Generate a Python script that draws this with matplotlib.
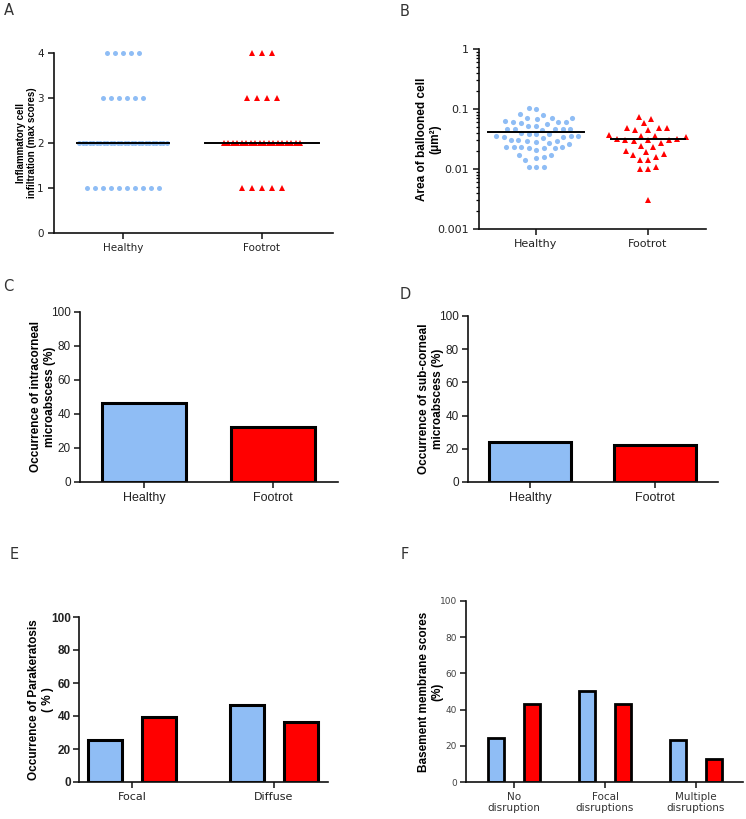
import numpy as np
import matplotlib
matplotlib.use("Agg")
import matplotlib.pyplot as plt
from matplotlib.ticker import LogLocator, NullFormatter, FixedLocator

W, H = 746, 819
BLUE = "#8fbdf5"
RED = "#ff0000"
TXT = "#222222"

groups = ["Healthy", "Footrot"]

# panel A: inflammatory cell infiltration (score -> number of animals)
a_scores = [1, 2, 3, 4]
a_healthy_counts = [10, 26, 6, 5]
a_footrot_counts = [5, 18, 4, 3]
a_median = [2, 2]

# panel B: area of ballooned cell
b_healthy = [0.105, 0.101, 0.082, 0.080, 0.071, 0.070, 0.069, 0.070,
             0.062, 0.061, 0.060, 0.061, 0.058, 0.057, 0.053, 0.052,
             0.047, 0.046, 0.046, 0.045, 0.046, 0.047, 0.039, 0.040,
             0.038, 0.039, 0.035, 0.034, 0.035, 0.034, 0.033, 0.035,
             0.030, 0.029, 0.030, 0.029, 0.028, 0.027, 0.026, 0.023,
             0.023, 0.022, 0.023, 0.022, 0.021, 0.023, 0.022, 0.017,
             0.017, 0.016, 0.015, 0.014, 0.011, 0.011, 0.011]
b_footrot = [0.074, 0.069, 0.058, 0.049, 0.049, 0.048, 0.045, 0.044,
             0.037, 0.036, 0.036, 0.034, 0.032, 0.032, 0.031, 0.030,
             0.030, 0.029, 0.027, 0.024, 0.023, 0.020, 0.019, 0.018,
             0.017, 0.016, 0.014, 0.014, 0.011, 0.010, 0.010, 0.003]
b_median = [0.041, 0.032]

# panel C / D
c_values = [46.5, 32.4]
d_values = [24.1, 22.3]

# panel E
e_cats = ["Focal", "Diffuse"]
e_healthy = [25.3, 46.5]
e_footrot = [39.2, 36.4]

# panel F
f_cats = ["No\ndisruption", "Focal\ndisruptions", "Multiple\ndisruptions"]
f_healthy = [24.2, 50.3, 23.3]
f_footrot = [42.9, 42.9, 12.7]


def rect(l, t, r, b):
    return [l / W, 1 - b / H, (r - l) / W, (b - t) / H]


def style(ax):
    for s in ("top", "right"):
        ax.spines[s].set_visible(False)
    for s in ("left", "bottom"):
        ax.spines[s].set_linewidth(1.2)
        ax.spines[s].set_color("#111111")
    ax.tick_params(direction="out", length=4, width=1.1, colors="#111111")


def swarm(vals, diam, px_per_decade):
    # simple beeswarm in pixel space, returns x offsets in px
    ys = np.log10(vals) * px_per_decade
    order = np.argsort(ys)
    placed = []
    offs = np.zeros(len(vals))
    cands = sorted(np.arange(-60, 60.5, 0.5), key=abs)
    for i in order:
        for c in cands:
            if all((c - px) ** 2 + (ys[i] - py) ** 2 >= diam ** 2 for px, py in placed):
                offs[i] = c
                placed.append((c, ys[i]))
                break
    return offs


fig = plt.figure(figsize=(W / 100, H / 100), dpi=100)

# ---------------- A ----------------
ax = fig.add_axes(rect(54, 53, 333, 233))
style(ax)
px_unit = 139.0
for gi, (counts, spacing, maxw, mk, col, ms) in enumerate([
        (a_healthy_counts, 8.0, 88.0, "o", BLUE, 3.6),
        (a_footrot_counts, 10.0, 76.0, "^", RED, 4.8)]):
    for sc, n in zip(a_scores, counts):
        sp = spacing if n < 2 else min(spacing, maxw / (n - 1))
        xs = gi + (np.arange(n) - (n - 1) / 2) * sp / px_unit
        ax.plot(xs, [sc] * n, mk, color=col, ms=ms, mew=0, zorder=2, clip_on=False)
half = [46 / px_unit, 57 / px_unit]
for gi, m in enumerate(a_median):
    ax.plot([gi - half[gi], gi + half[gi]], [m, m], color="black", lw=1.4, zorder=3)
ax.set_xlim(-69 / px_unit, 1 + 71 / px_unit)
ax.set_ylim(0, 4)
ax.set_yticks([0, 1, 2, 3, 4])
ax.set_xticks([0, 1])
ax.set_xticklabels(groups)
ax.tick_params(labelsize=7.5, labelcolor=TXT)
ax.set_ylabel("Inflammatory cell\ninfiltration (max scores)", fontsize=7,
              fontweight="bold", family="Liberation Sans", linespacing=1.2)
ax.yaxis.set_label_coords(-0.06, 0.5)

# ---------------- B ----------------
ax = fig.add_axes(rect(479, 49, 706, 229))
style(ax)
ax.set_yscale("log")
px_unit = 112.0
for gi, (vals, mk, col, ms, d) in enumerate([
        (b_healthy, "o", BLUE, 3.7, 7.4), (b_footrot, "^", RED, 5.0, 8.2)]):
    xs = gi + swarm(np.array(vals), d, 60.0) / px_unit
    ax.plot(xs, vals, mk, color=col, ms=ms, mew=0, zorder=2)
bhalf = [48 / px_unit, 37 / px_unit]
for gi, m in enumerate(b_median):
    ax.plot([gi - bhalf[gi], gi + bhalf[gi]], [m, m], color="black", lw=1.4, zorder=3)
ax.set_xlim(-57 / px_unit, 1 + 58 / px_unit)
ax.set_ylim(0.001, 1)
ax.yaxis.set_major_locator(FixedLocator([0.001, 0.01, 0.1, 1]))
ax.set_yticklabels(["0.001", "0.01", "0.1", "1"])
ax.yaxis.set_minor_locator(LogLocator(base=10, subs=np.arange(2, 10)))
ax.yaxis.set_minor_formatter(NullFormatter())
ax.tick_params(axis="y", which="minor", length=2.5, width=0.9)
ax.set_xticks([0, 1])
ax.set_xticklabels(groups)
ax.tick_params(labelsize=8, labelcolor=TXT)
ax.set_ylabel("Area of ballooned cell\n(\u03bcm\u00b2)", fontsize=8.5,
              fontweight="bold", family="Liberation Sans", linespacing=1.2)
ax.yaxis.set_label_coords(-0.165, 0.5)

# ---------------- C / D ----------------
for (l, t, r, b), vals, ylab, lx, bw in [
        ((80, 312, 338, 482), c_values,
         "Occurrence of intracorneal\nmicroabscess (%)", -0.092, 0.65),
        ((468, 316, 718, 482), d_values,
         "Occurrence of sub-corneal\nmicroabscess (%)", -0.098, 0.656)]:
    ax = fig.add_axes(rect(l, t, r, b))
    style(ax)
    ax.bar([0, 1], vals, width=bw, color=[BLUE, RED], edgecolor="black", lw=2.2, zorder=2)
    ax.set_xlim(-0.496, 1.504)
    ax.set_ylim(0, 100)
    ax.set_yticks(range(0, 101, 20))
    ax.set_xticks([0, 1])
    ax.set_xticklabels(groups)
    for lab in ax.get_xticklabels():
        lab.set_family("Liberation Sans")
        lab.set_fontsize(9)
        lab.set_color(TXT)
    for lab in ax.get_yticklabels():
        lab.set_family("Liberation Sans")
        lab.set_fontsize(8.5)
        lab.set_color(TXT)
    ax.tick_params(axis="y", pad=2.5)
    ax.set_ylabel(ylab, fontsize=8.5, fontweight="bold", family="Liberation Sans",
                  linespacing=1.2)
    ax.yaxis.set_label_coords(lx, 0.5)

# ---------------- E ----------------
ax = fig.add_axes(rect(79, 617, 328, 782))
style(ax)
x = np.arange(len(e_cats))
ax.bar(x - 0.19, e_healthy, width=0.235, color=BLUE, edgecolor="black", lw=2.2, zorder=2)
ax.bar(x + 0.19, e_footrot, width=0.235, color=RED, edgecolor="black", lw=2.2, zorder=2)
ax.set_xlim(-0.373, 1.38)
ax.set_ylim(0, 100)
ax.set_yticks(range(0, 101, 20))
ax.set_xticks(x)
ax.set_xticklabels(e_cats, fontsize=8, color=TXT)
for lab in ax.get_yticklabels():
    lab.set_family("Liberation Sans")
    lab.set_fontweight("bold")
    lab.set_fontsize(8.5)
    lab.set_color(TXT)
ax.tick_params(axis="y", pad=2)
ax.set_ylabel("Occurrence of Parakeratosis\n( % )", fontsize=8.5, fontweight="bold",
              family="Liberation Sans", linespacing=1.2)
ax.yaxis.set_label_coords(-0.1, 0.5)

# ---------------- F ----------------
ax = fig.add_axes(rect(466, 601, 743, 782))
style(ax)
x = np.arange(len(f_cats))
ax.bar(x - 0.2, f_healthy, width=0.18, color=BLUE, edgecolor="black", lw=2.0, zorder=2)
ax.bar(x + 0.2, f_footrot, width=0.18, color=RED, edgecolor="black", lw=2.0, zorder=2)
ax.set_xlim(-0.527, 2.516)
ax.set_ylim(0, 100)
ax.set_yticks(range(0, 101, 20))
ax.set_xticks(x)
ax.set_xticklabels(f_cats, fontsize=7.5, color="#333333", linespacing=1.1)
ax.tick_params(axis="y", labelsize=6.5, labelcolor="#444444", pad=2.5)
ax.set_ylabel("Basement membrane scores\n(%)", fontsize=8.5, fontweight="bold",
              family="Liberation Sans", linespacing=1.2)
ax.yaxis.set_label_coords(-0.08, 0.5)

# panel letters
for letter, px, py in [("A", 4, 3), ("B", 400, 4), ("C", 3, 279),
                       ("D", 400, 287), ("E", 10, 547), ("F", 401, 547)]:
    fig.text(px / W, 1 - py / H, letter, fontsize=10.5, color="#333333",
             va="top", ha="left")

fig.savefig("out.png", dpi=100)
